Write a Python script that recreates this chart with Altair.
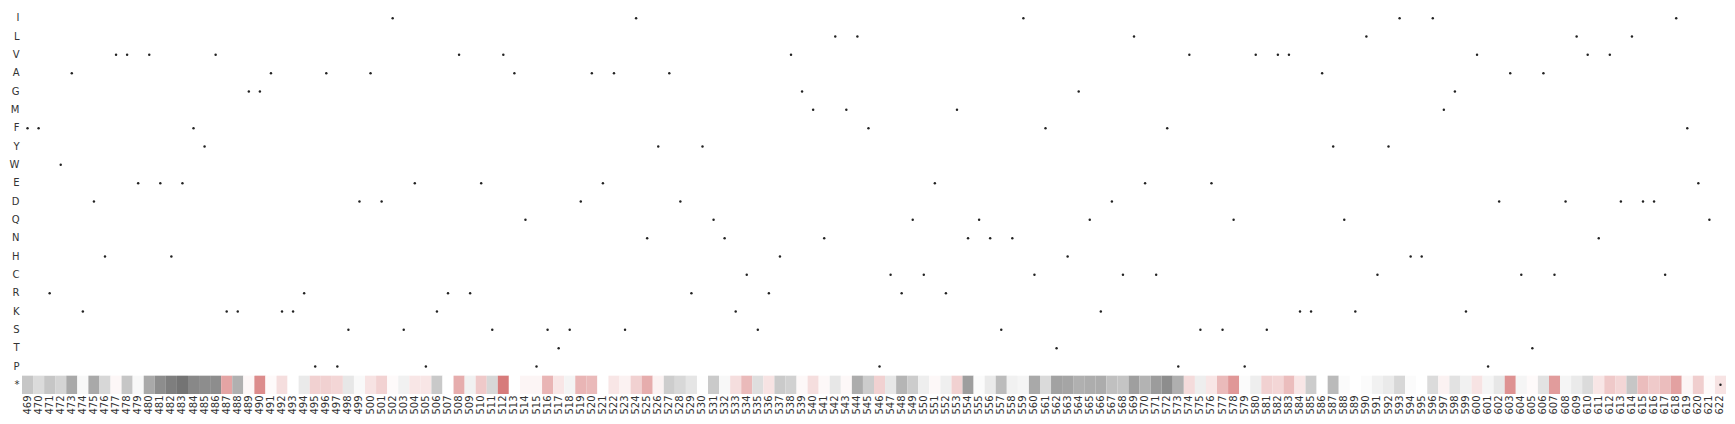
import altair as alt
import pandas as pd

positions = list(range(469, 623))
amino_acids = ["I", "L", "V", "A", "G", "M", "F", "Y", "W", "E", "D",
               "Q", "N", "H", "C", "R", "K", "S", "T", "P", "*"]

wildtype = list(
    "FFRWAKDHVVEVEHEFYVKKGGAKK"
    "RPAPSDADISEPKRVRESVAQPSTSDA"
    "EASINYADRYQNKCSRHVGMNLMLFP"
    "CRQCERMNQNSNICFTHGQKDCLECF"
    "PVSESQPVSVVKKAYQKLCYIHHIMG"
    "KVPDACTACDLVNVDLDDCIFEQ*"
)

# score of the stop codon (*) row; negative = grey, positive = red
stop_scores = [
    -0.40, -0.25, -0.40, -0.30, -0.60, -0.05, -0.60, -0.28, 0.05, -0.40,   # 469-478
    -0.05, -0.60, -0.80, -0.90, -0.97, -0.83, -0.80, -0.80, 0.55, -0.55,   # 479-488
    0.05, 0.70, 0.03, 0.20, 0.00, -0.15, 0.28, 0.28, 0.25, -0.17,          # 489-498
    -0.04, 0.17, 0.27, 0.03, -0.10, 0.15, 0.15, -0.38, 0.00, 0.50,         # 499-508
    -0.10, 0.33, -0.28, 0.80, 0.00, 0.06, 0.06, 0.45, 0.15, -0.08,         # 509-518
    0.45, 0.42, 0.00, 0.15, 0.08, 0.28, 0.50, 0.08, -0.35, -0.27,          # 519-528
    -0.18, -0.01, -0.37, -0.05, 0.20, 0.42, -0.23, 0.17, -0.37, -0.32,     # 529-538
    0.04, 0.20, 0.04, -0.17, 0.04, -0.58, -0.36, 0.28, -0.17, -0.52,       # 539-548
    -0.36, -0.12, 0.04, -0.11, 0.28, -0.68, -0.03, -0.15, -0.47, -0.10,    # 549-558
    -0.07, -0.60, -0.26, -0.65, -0.63, -0.55, -0.57, -0.58, -0.44, -0.41,  # 559-568
    -0.67, -0.53, -0.69, -0.80, -0.56, 0.22, -0.12, 0.15, 0.42, 0.63,      # 569-578
    -0.03, -0.12, 0.28, 0.25, 0.40, 0.15, -0.36, 0.00, -0.48, -0.03,       # 579-588
    0.00, -0.03, -0.10, -0.15, -0.28, -0.03, 0.00, -0.25, 0.08, -0.20,     # 589-598
    -0.10, 0.17, -0.07, -0.17, 0.66, -0.07, 0.03, -0.20, 0.60, -0.07,      # 599-608
    -0.15, -0.25, 0.15, 0.33, 0.25, -0.40, 0.40, 0.32, 0.40, 0.57,         # 609-618
    0.06, 0.30, 0.03, 0.17,                                                # 619-622
]

pos_labels = [str(p) for p in positions]

score_df = pd.DataFrame({
    "pos": pos_labels,
    "aa": ["*"] * len(positions),
    "score": stop_scores,
})
wt_df = pd.DataFrame({"pos": pos_labels, "aa": wildtype})

x_enc = alt.X(
    "pos:N",
    sort=pos_labels,
    scale=alt.Scale(domain=pos_labels),
    axis=alt.Axis(
        title=None, labelAngle=270, ticks=False, domain=False, grid=False,
        labelFont="DejaVu Sans", labelFontSize=10, labelColor="#333333",
        labelPadding=1, labelBaseline="middle", labelAlign="right",
    ),
)
y_enc = alt.Y(
    "aa:N",
    sort=amino_acids,
    scale=alt.Scale(domain=amino_acids),
    axis=alt.Axis(
        title=None, ticks=False, domain=False, grid=False,
        labelFont="DejaVu Sans", labelFontSize=10, labelColor="#333333",
        labelPadding=3,
    ),
)

cells = alt.Chart(score_df).mark_rect().encode(
    x=x_enc,
    y=y_enc,
    color=alt.Color(
        "score:Q",
        scale=alt.Scale(domain=[-1, 0, 1],
                        range=["#707070", "#ffffff", "#cd5a5a"],
                        interpolate="rgb"),
        legend=None,
    ),
)

dots = alt.Chart(wt_df).mark_circle(size=6, color="#222222", opacity=1).encode(
    x=x_enc,
    y=y_enc,
)

chart = alt.layer(cells, dots).properties(
    width=1704, height=385,
    padding={"left": 1, "top": 1, "right": 0, "bottom": 0},
).configure_view(stroke=None)

chart.save("out.html", embed_options={"renderer": "svg", "actions": False})
